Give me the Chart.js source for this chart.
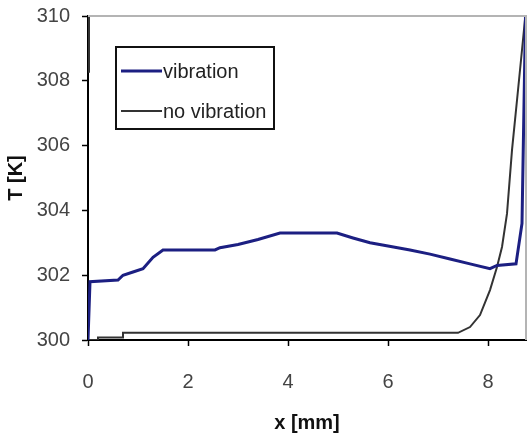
<!DOCTYPE html>
<html>
<head>
<meta charset="utf-8">
<script src="https://cdn.jsdelivr.net/npm/chart.js@4"></script>
<style>
  html, body { margin: 0; padding: 0; background: #fff; }
  #wrap { width: 528px; height: 438px; }
</style>
</head>
<body>
<div id="wrap"><canvas id="c" width="528" height="438"></canvas></div>
<script>
// Temperature profile along the sample, with and without vibration
const vibX = [0, 0.04, 0.6, 0.7, 0.9, 1.1, 1.3, 1.5, 2.54, 2.64, 3.0, 3.4, 3.84, 4.98, 5.3, 5.64, 6.0, 6.44, 6.84, 7.24, 7.64, 8.04, 8.18, 8.56, 8.68, 8.75];
const vibT = [300, 301.8, 301.85, 302.0, 302.1, 302.2, 302.55, 302.78, 302.78, 302.85, 302.95, 303.1, 303.3, 303.3, 303.15, 303.0, 302.9, 302.78, 302.65, 302.5, 302.35, 302.2, 302.3, 302.35, 303.6, 310];

// null marks a break in the line
const noVibX = [0.02, 0.02, 0.02, 0, 0.2, 0.2, 0.7, 0.7, 7.4, 7.64, 7.84, 8.04, 8.18, 8.28, 8.38, 8.48, 8.58, 8.68, 8.74];
const noVibT = [310, 308.25, null, 300, 300, 300.08, 300.08, 300.22, 300.22, 300.4, 300.77, 301.54, 302.25, 302.87, 303.9, 305.86, 307.4, 308.95, 309.9];

const xTicks = [0, 2, 4, 6, 8];
const yTicks = [300, 302, 304, 306, 308, 310];
const seriesNames = ['vibration', 'no vibration'];

const toPoints = (xs, ys) => xs.map((x, i) => ({ x: x, y: ys[i] }));

const FONT = "'Liberation Sans', Arial, sans-serif";

// Grey frame on the top and right of the plot, plus the boxed legend
const framePlugin = {
  id: 'frame',
  afterDraw(chart) {
    const { ctx, chartArea: a } = chart;
    ctx.save();
    ctx.strokeStyle = '#b4b4b4';
    ctx.lineWidth = 2;
    ctx.beginPath();
    ctx.moveTo(a.left, a.top);
    ctx.lineTo(a.right, a.top);
    ctx.lineTo(a.right, a.bottom);
    ctx.stroke();

    // legend box
    const bx = 116, by = 47, bw = 158, bh = 82;
    ctx.strokeStyle = '#111';
    ctx.lineWidth = 2;
    ctx.strokeRect(bx, by, bw, bh);
    const rows = [71, 111];
    ctx.font = '20px ' + FONT;
    ctx.textBaseline = 'middle';
    ctx.fillStyle = '#222';
    chart.data.datasets.forEach((ds, i) => {
      ctx.strokeStyle = ds.borderColor;
      ctx.lineWidth = ds.borderWidth;
      ctx.beginPath();
      ctx.moveTo(121, rows[i]);
      ctx.lineTo(162, rows[i]);
      ctx.stroke();
      ctx.fillText(ds.label, 163, rows[i] + 1);
    });
    ctx.restore();
  }
};

const noPad = s => { s.paddingTop = 0; s.paddingBottom = 0; s.paddingLeft = 0; s.paddingRight = 0; };

new Chart(document.getElementById('c'), {
  type: 'line',
  data: {
    datasets: [
      {
        label: seriesNames[0],
        data: toPoints(vibX, vibT),
        borderColor: '#1c1f82',
        borderWidth: 3,
        pointRadius: 0,
        tension: 0,
        spanGaps: false
      },
      {
        label: seriesNames[1],
        data: toPoints(noVibX, noVibT),
        borderColor: '#333333',
        borderWidth: 2,
        pointRadius: 0,
        tension: 0,
        spanGaps: false
      }
    ]
  },
  options: {
    responsive: false,
    animation: false,
    layout: { padding: { top: 16, right: 2, left: 0, bottom: 0 } },
    plugins: { legend: { display: false }, tooltip: { enabled: false } },
    scales: {
      x: {
        type: 'linear',
        min: 0,
        max: 8.76,
        afterBuildTicks: s => { s.ticks = xTicks.map(v => ({ value: v })); },
        afterFit: s => { s.height = 98; noPad(s); },
        grid: { drawOnChartArea: false, drawTicks: true, tickLength: 6, tickColor: '#000', tickWidth: 1.5 },
        border: { display: true, color: '#000', width: 2 },
        ticks: { color: '#444', font: { family: FONT, size: 20 }, padding: 24, maxRotation: 0 },
        title: { display: true, text: 'x [mm]', color: '#111', font: { family: FONT, size: 20, weight: 'bold' }, padding: { top: 0, bottom: 3 } }
      },
      y: {
        type: 'linear',
        min: 300,
        max: 310,
        afterBuildTicks: s => { s.ticks = yTicks.map(v => ({ value: v })); },
        afterFit: s => { s.width = 88; noPad(s); },
        grid: { drawOnChartArea: false, drawTicks: true, tickLength: 6, tickColor: '#000', tickWidth: 1.5 },
        border: { display: true, color: '#000', width: 2 },
        ticks: { color: '#444', font: { family: FONT, size: 20 }, padding: 12 },
        title: { display: true, text: 'T [K]', color: '#111', font: { family: FONT, size: 20, weight: 'bold' }, padding: { top: 4, bottom: 0 } }
      }
    }
  },
  plugins: [framePlugin]
});
</script>
</body>
</html>
